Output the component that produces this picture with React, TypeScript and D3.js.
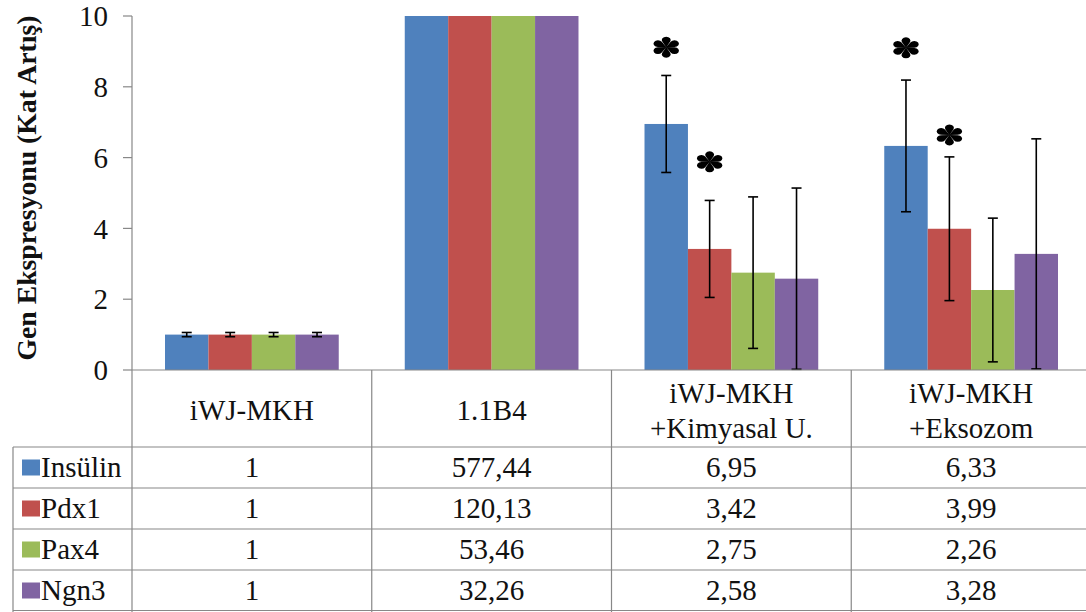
import React from "react"
import * as d3 from "d3"

const groups = [["iWJ-MKH"], ["1.1B4"], ["iWJ-MKH", "+Kimyasal U."], ["iWJ-MKH", "+Eksozom"]]
const seriesNames = ["Insülin", "Pdx1", "Pax4", "Ngn3"]
const colors = ["#4f81bd", "#c0504d", "#9bbb59", "#8064a2"]

const insulin = [1, 577.44, 6.95, 6.33]
const pdx1 = [1, 120.13, 3.42, 3.99]
const pax4 = [1, 53.46, 2.75, 2.26]
const ngn3 = [1, 32.26, 2.58, 3.28]

// error bars (+/-); 1.1B4 ones are off the scale
const insulinErr = [0.06, 0, 1.37, 1.86]
const pdx1Err = [0.06, 0, 1.37, 2.03]
const pax4Err = [0.06, 0, 2.14, 2.03]
const ngn3Err = [0.06, 0, 2.56, 3.25]

const yTicks = [0, 2, 4, 6, 8, 10]

// significance marks: group index, series index, height (axis units)
const stars = [
  { group: 2, series: 0, at: 9.12 },
  { group: 2, series: 1, at: 5.88 },
  { group: 3, series: 0, at: 9.1 },
  { group: 3, series: 1, at: 6.64 },
]

const values = [insulin, pdx1, pax4, ngn3]
const errors = [insulinErr, pdx1Err, pax4Err, ngn3Err]

const W = 1086
const H = 612
const left = 132
const top = 16
const axisBottom = 370
const tableLeft = 13
const rowLines = [447, 488, 529, 570, 611]
const lineColor = "#888"
const font =
  '"Liberation Serif", Tinos, "Times New Roman", Times, "DejaVu Serif", "Noto Serif", FreeSerif, serif'

// six teardrop spokes, round end outwards
function starPath() {
  const d = 8.5
  const r = 4
  const L = Math.sqrt(d * d - r * r)
  const b = Math.asin(r / d)
  let s = ""
  for (let i = 0; i < 6; i++) {
    const a = (Math.PI / 3) * i - Math.PI / 2
    const t1x = L * Math.cos(a - b)
    const t1y = L * Math.sin(a - b)
    const t2x = L * Math.cos(a + b)
    const t2y = L * Math.sin(a + b)
    s += `M0,0L${t1x},${t1y}A${r},${r} 0 1 1 ${t2x},${t2y}Z`
  }
  return s
}

const fmt = (v: number) => (v === 1 ? "1" : v.toFixed(2).replace(".", ","))

export default function App() {
  const y = d3.scaleLinear().domain([0, 10]).range([axisBottom, top])
  const x0 = d3
    .scaleBand<number>()
    .domain(d3.range(groups.length))
    .range([left, left + 4 * 239.75])
  const x1 = d3
    .scaleBand<number>()
    .domain(d3.range(seriesNames.length))
    .range([0, x0.bandwidth()])
    .paddingInner(0)
    .paddingOuter(0.76)

  const bw = x1.bandwidth()
  const clampY = (v: number) => y(Math.max(0, Math.min(10, v)))
  const star = starPath()

  return (
    <svg
      width={W}
      height={H}
      style={{ position: "absolute", left: 0, top: 0, background: "#fff" }}
    >
      <rect width={W} height={H} fill="#fff" />

      {/* bars */}
      {values.map((vals, s) => (
        <g key={s} fill={colors[s]}>
          {vals.map((v, g) => (
            <rect
              key={g}
              x={x0(g)! + x1(s)!}
              y={clampY(v)}
              width={bw}
              height={axisBottom - clampY(v)}
            />
          ))}
        </g>
      ))}

      {/* error bars */}
      <g stroke="#000" strokeWidth={1.6}>
        {errors.map((errs, s) =>
          errs.map((e, g) => {
            if (!e) return null
            const cx = x0(g)! + x1(s)! + bw / 2
            const hi = clampY(values[s][g] + e)
            const lo = clampY(values[s][g] - e)
            return (
              <g key={`${s}-${g}`}>
                <line x1={cx} x2={cx} y1={hi} y2={lo} />
                <line x1={cx - 5} x2={cx + 5} y1={hi} y2={hi} />
                <line x1={cx - 5} x2={cx + 5} y1={lo} y2={lo} />
              </g>
            )
          })
        )}
      </g>

      {/* asterisks */}
      {stars.map((st, i) => (
        <path
          key={i}
          d={star}
          fill="#000"
          transform={`translate(${x0(st.group)! + x1(st.series)! + bw / 2},${y(st.at)}) scale(1.12,0.84)`}
        />
      ))}

      {/* y axis */}
      <g stroke={lineColor} strokeWidth={1.2}>
        <line x1={left} x2={left} y1={top} y2={H} />
        {yTicks.map(t => (
          <line key={t} x1={left - 9} x2={left} y1={y(t)} y2={y(t)} />
        ))}
      </g>
      <g fontSize={29} textAnchor="end" fill="#111" fontFamily={font}>
        {yTicks.map(t => (
          <text key={t} x={108} y={y(t)} dy="0.35em">
            {t}
          </text>
        ))}
      </g>
      <text
        transform="translate(26,188) rotate(-90)"
        textAnchor="middle"
        dy="0.35em"
        fontSize={28}
        fontWeight="bold"
        fill="#111"
        fontFamily={font}
        textLength={345}
        lengthAdjust="spacingAndGlyphs"
      >
        Gen Ekspresyonu (Kat Artış)
      </text>

      {/* data table */}
      <g stroke={lineColor} strokeWidth={1.2}>
        <line x1={left} x2={W} y1={axisBottom} y2={axisBottom} />
        {rowLines.map((ry, i) => (
          <line key={ry} x1={tableLeft} x2={W} y1={i === 4 ? ry - 0.5 : ry} y2={i === 4 ? ry - 0.5 : ry} />
        ))}
        <line x1={tableLeft} x2={tableLeft} y1={rowLines[0]} y2={H} />
        {d3.range(1, groups.length).map(g => (
          <line key={g} x1={x0(g)!} x2={x0(g)!} y1={axisBottom} y2={H} />
        ))}
      </g>

      <g fontSize={29} textAnchor="middle" fill="#111" fontFamily={font}>
        {groups.map((lines, g) => {
          const cx = x0(g)! + x0.bandwidth() / 2
          const mid = (axisBottom + rowLines[0]) / 2 + 2
          return (
            <text key={g} x={cx}>
              {lines.map((ln, k) => (
                <tspan key={k} x={cx} y={mid + (k - (lines.length - 1) / 2) * 35} dy="0.34em">
                  {ln}
                </tspan>
              ))}
            </text>
          )
        })}
        {values.map((vals, s) =>
          vals.map((v, g) => (
            <text
              key={`${s}-${g}`}
              x={x0(g)! + x0.bandwidth() / 2}
              y={(rowLines[s] + rowLines[s + 1]) / 2}
              dy="0.34em"
            >
              {fmt(v)}
            </text>
          ))
        )}
      </g>

      {/* legend keys in the table */}
      {seriesNames.map((name, s) => {
        const cy = (rowLines[s] + rowLines[s + 1]) / 2
        return (
          <g key={name}>
            <rect x={22} y={cy - 8} width={18} height={16} fill={colors[s]} />
            <text x={41} y={cy} dy="0.34em" fontSize={29} fill="#111" fontFamily={font}>
              {name}
            </text>
          </g>
        )
      })}
    </svg>
  )
}
